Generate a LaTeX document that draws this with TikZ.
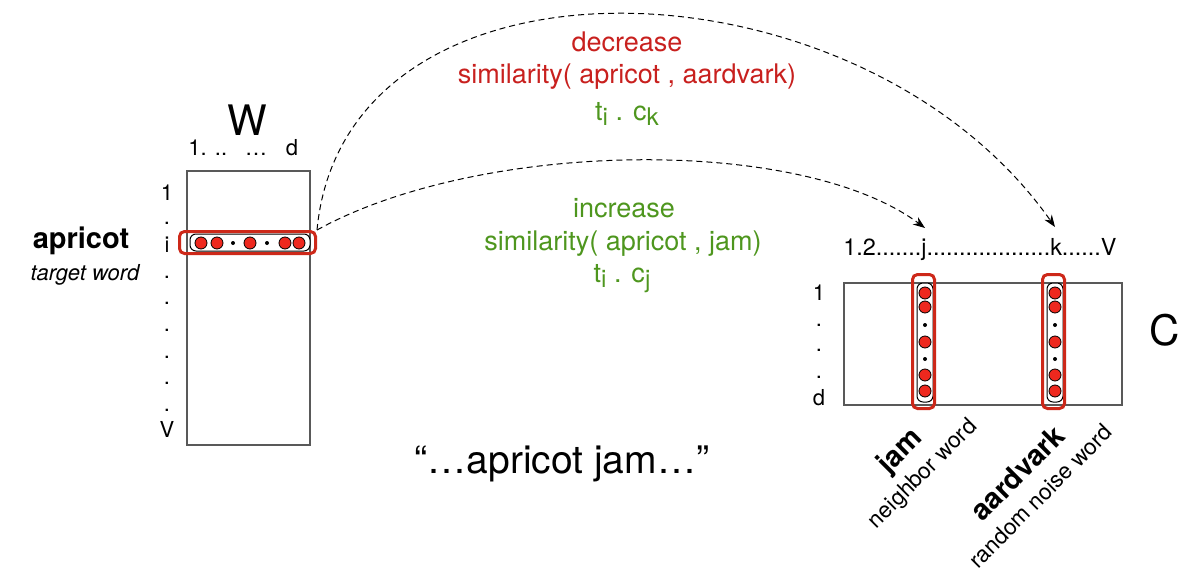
\documentclass[tikz,border=0pt]{standalone}
\usepackage{fontspec}
\setmainfont{TeX Gyre Heros}
\usetikzlibrary{arrows.meta}
\definecolor{redtxt}{RGB}{200,32,30}
\definecolor{greentxt}{RGB}{78,150,30}
\definecolor{redbox}{RGB}{205,40,25}
\definecolor{redfill}{RGB}{238,40,30}
\newcommand\lowsub[1]{\raisebox{-0.4ex}{\scalebox{0.9}{#1}}}
\tikzset{
  matrixbox/.style={draw=black!65, line width=0.6pt, inner sep=0pt},
  selbox/.style={draw=redbox, line width=1.5pt, rounded corners=2.5pt, inner sep=0pt},
  vecbox/.style={draw=black, line width=0.5pt, rounded corners=3pt, fill=white, inner sep=0pt},
  unit/.style={circle, draw=black, line width=0.4pt, fill=redfill, minimum size=6pt, inner sep=0pt},
  gapdot/.style={circle, fill=black, minimum size=2pt, inner sep=0pt},
  lbl/.style={font=\fontsize{11}{13}\selectfont, inner sep=0pt, anchor=base},
  big/.style={font=\fontsize{21}{24}\selectfont, inner sep=0pt, anchor=base},
  msg/.style={font=\fontsize{13.5}{16}\selectfont, inner sep=0pt, anchor=base},
  link/.style={dashed, dash pattern=on 3pt off 2pt, line width=0.5pt, -{Stealth[length=6pt,width=4.5pt]}},
}
\begin{document}
\begin{tikzpicture}[x=0.5pt,y=-0.5pt]
\useasboundingbox (0,0) rectangle (1196,584);

% ---------- W matrix ----------
\node[matrixbox, minimum width=61.5pt, minimum height=137pt] (Wm) at (248.5,308) {};
\node[big] (Wlab) at (247,135) {W};
\node[lbl, anchor=base west] (Wc1) at (188,155) {1. ..};
\node[lbl] (Wc2) at (256,155) {…};
\node[lbl] (Wc3) at (292,155) {d};
\node[lbl] (Wr1) at (167,200) {1};
\node[lbl] (Wr2) at (167,224) {.};
\node[lbl] (Wr3) at (167,252) {i};
\node[lbl] (Wr4) at (167,278) {.};
\node[lbl] (Wr5) at (167,304) {.};
\node[lbl] (Wr6) at (167,331) {.};
\node[lbl] (Wr7) at (167,358) {.};
\node[lbl] (Wr8) at (167,384) {.};
\node[lbl] (Wr9) at (167,411) {.};
\node[lbl] (Wr10) at (167,437) {V};

\node[vecbox, minimum width=60pt, minimum height=8.5pt] (wvec) at (250,242.5) {};
\node[selbox, minimum width=68pt, minimum height=11pt] (wrow) at (247.5,242.5) {};
\foreach \x [count=\n] in {201,217,285,299}
  \node[unit] (wu\n) at (\x,243) {};
\node[unit] (wu5) at (250,243) {};
\node[gapdot] (wg1) at (233,243) {};
\node[gapdot] (wg2) at (267,243) {};

\node[font=\fontsize{14.5}{16}\selectfont\bfseries, inner sep=0pt, anchor=base] (apr) at (81,248) {apricot};
\node[font=\fontsize{11}{13}\selectfont\itshape, inner sep=0pt, anchor=base] (tw) at (85,280) {target word};

% ---------- C matrix ----------
\node[matrixbox, minimum width=139pt, minimum height=61pt] (Cm) at (983,344) {};
\node[big] (Clab) at (1165,345) {C};
\node[font=\fontsize{11.7}{13}\selectfont, inner sep=0pt, anchor=base west] (Ctop) at (843,255) {1.2.......j...................k......V};
\coordinate (jpt) at (925,228);
\coordinate (kpt) at (1055,227);
\node[lbl] (Cr1) at (819,300) {1};
\node[lbl] (Cr2) at (819,326) {.};
\node[lbl] (Cr3) at (819,351) {.};
\node[lbl] (Cr4) at (819,378) {.};
\node[lbl] (Cr5) at (819,405) {d};

\foreach \cx/\nm in {925/j,1055/k}{
  \node[vecbox, minimum width=8pt, minimum height=59.5pt] (\nm vec) at (\cx,342.5) {};
  \node[selbox, minimum width=11pt, minimum height=67pt] (\nm col) at (\cx-1.5,341.5) {};
  \foreach \y [count=\n] in {293,307,342,375,391}
    \node[unit] (\nm u\n) at (\cx,\y) {};
  \node[gapdot] (\nm g1) at (\cx,325) {};
  \node[gapdot] (\nm g2) at (\cx,359) {};
}

\node[rotate=45, align=center, inner sep=0pt] (jamlab) at (911,462)
  {{\fontsize{14.4}{14}\selectfont\bfseries jam}\\[3pt]{\fontsize{11.3}{13}\selectfont neighbor word}};
\node[rotate=45, align=center, inner sep=0pt] (aardlab) at (1028,484)
  {{\fontsize{14.4}{14}\selectfont\bfseries aardvark}\\[3pt]{\fontsize{11.3}{13}\selectfont random noise word}};

% ---------- messages ----------
\node[msg, text=redtxt] (dec) at (627,51) {decrease};
\node[msg, text=redtxt] (dsim) at (627,83) {similarity( apricot , aardvark)};
\node[msg, text=greentxt] (dtc) at (627,120) {t\lowsub{i} . c\lowsub{k}};
\node[msg, text=greentxt] (inc) at (624,217) {increase};
\node[msg, text=greentxt] (isim) at (623,250) {similarity( apricot , jam)};
\node[msg, text=greentxt] (itc) at (622,282) {t\lowsub{i} . c\lowsub{j}};

\node[font=\fontsize{19.5}{22}\selectfont, inner sep=0pt, anchor=base] (quote) at (562,473) {“…apricot jam…”};

% ---------- connectors ----------
\draw[link] (wrow.north east) .. controls (345,-65) and (860,-50) .. (kpt);
\draw[link] (wrow.north east) .. controls (480,140) and (800,135) .. (jpt);
\end{tikzpicture}
\end{document}
